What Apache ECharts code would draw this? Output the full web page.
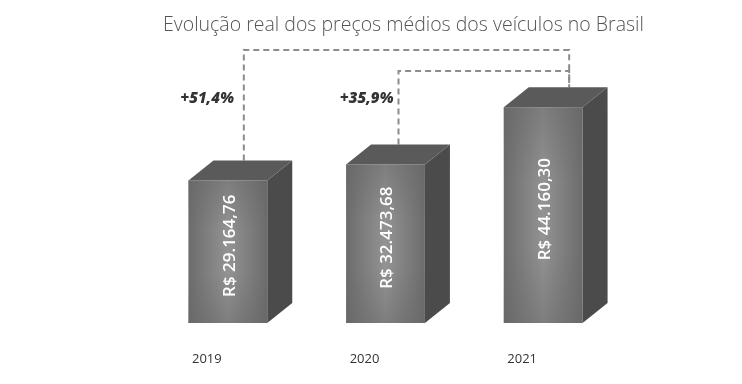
<!DOCTYPE html>
<html>
<head>
<meta charset="utf-8">
<script src="https://cdn.jsdelivr.net/npm/echarts@6/dist/echarts.min.js"></script>
<style>html,body{margin:0;padding:0;background:#fff}#c{width:742px;height:384px}</style>
</head>
<body>
<div id="c"></div>
<script>
const years = ['2019', '2020', '2021'];
const prices = [29164.76, 32473.68, 44160.30];
const priceLabels = ['R$ 29.164,76', 'R$ 32.473,68', 'R$ 44.160,30'];
const bracketFrom = [0, 1];
const bracketTo = [2, 2];
const bracketLevel = [55900, 51600];
const bracketLabels = ['+51,4%', '+35,9%'];

const DX = 25, DY = 20;
const fromOffset = [16, 13, 26];
const toOffset = 26;
const labelGap = [10, 5];

const chart = echarts.init(document.getElementById('c'));

function renderBar(params, api) {
  const idx = api.value(0);
  const top = api.coord([idx, api.value(1)]);
  const base = api.coord([idx, 0]);
  const half = api.size([1, 0])[0] * 0.25;
  const xl = top[0] - half, xr = top[0] + half;
  const yt = top[1], yb = base[1];
  return {
    type: 'group',
    children: [
      {
        type: 'polygon',
        shape: { points: [[xr, yt], [xr + DX, yt - DY], [xr + DX, yb - DY], [xr, yb]] },
        style: { fill: '#4b4b4b' }
      },
      {
        type: 'polygon',
        shape: { points: [[xl, yt], [xl + DX, yt - DY], [xr + DX, yt - DY], [xr, yt]] },
        style: { fill: '#5a5a5a' }
      },
      {
        type: 'rect',
        shape: { x: xl, y: yt, width: xr - xl, height: yb - yt },
        style: {
          fill: new echarts.graphic.LinearGradient(0, 0, 1, 0, [
            { offset: 0, color: '#6c6c6c' },
            { offset: 0.5, color: '#939393' },
            { offset: 1, color: '#6c6c6c' }
          ])
        }
      },
      {
        type: 'rect',
        shape: { x: xl, y: yt, width: xr - xl, height: yb - yt },
        style: {
          fill: new echarts.graphic.LinearGradient(0, 0, 0, 1, [
            { offset: 0, color: 'rgba(100,100,100,0.45)' },
            { offset: 0.35, color: 'rgba(100,100,100,0)' },
            { offset: 0.65, color: 'rgba(100,100,100,0)' },
            { offset: 1, color: 'rgba(100,100,100,0.45)' }
          ])
        }
      },
      {
        type: 'text',
        x: top[0] + 2,
        y: (yt + yb) / 2 - 6,
        rotation: Math.PI / 2,
        style: {
          text: priceLabels[idx],
          fill: '#ffffff',
          font: '600 17px "Open Sans"',
          align: 'center',
          verticalAlign: 'middle'
        }
      }
    ]
  };
}

function renderBracket(params, api) {
  const i = params.dataIndex;
  const a = api.value(0), b = api.value(1);
  const level = api.coord([a, api.value(2)])[1];
  const pa = api.coord([a, prices[a]]);
  const pb = api.coord([b, prices[b]]);
  const xa = pa[0] + fromOffset[a];
  const xb = pb[0] + toOffset;
  const ya = pa[1] - DY;
  const yb = pb[1] - DY;
  const labelY = api.coord([a, 45900])[1];
  return {
    type: 'group',
    children: [
      {
        type: 'polyline',
        shape: { points: [[xa, ya], [xa, level], [xb, level], [xb, yb]] },
        style: { stroke: '#8c8c8c', lineWidth: 2, lineDash: [6, 4], fill: null }
      },
      {
        type: 'text',
        x: xa - labelGap[i],
        y: labelY,
        style: {
          text: bracketLabels[i],
          fill: '#333333',
          font: 'italic 800 15px "Open Sans"',
          align: 'right',
          verticalAlign: 'middle'
        }
      }
    ]
  };
}

chart.setOption({
  animation: false,
  title: {
    text: 'Evolução real dos preços médios dos veículos no Brasil',
    left: 158,
    top: 10,
    textStyle: { fontFamily: 'Open Sans', fontWeight: 300, fontSize: 19.5, color: '#555555' }
  },
  grid: { left: 149, right: 120, top: 30, bottom: 61 },
  xAxis: {
    type: 'category',
    data: years,
    axisLine: { show: false },
    axisTick: { show: false },
    axisLabel: {
      margin: 30,
      color: '#333333',
      fontFamily: 'Open Sans',
      fontSize: 13,
      padding: [0, 42, 0, 0]
    }
  },
  yAxis: { type: 'value', min: 0, max: 60000, show: false },
  series: [
    {
      type: 'custom',
      renderItem: renderBracket,
      clip: false,
      z: 1,
      data: bracketFrom.map((f, i) => [f, bracketTo[i], bracketLevel[i]])
    },
    {
      type: 'custom',
      renderItem: renderBar,
      clip: false,
      z: 2,
      data: prices.map((v, i) => [i, v])
    }
  ]
});
</script>
</body>
</html>
